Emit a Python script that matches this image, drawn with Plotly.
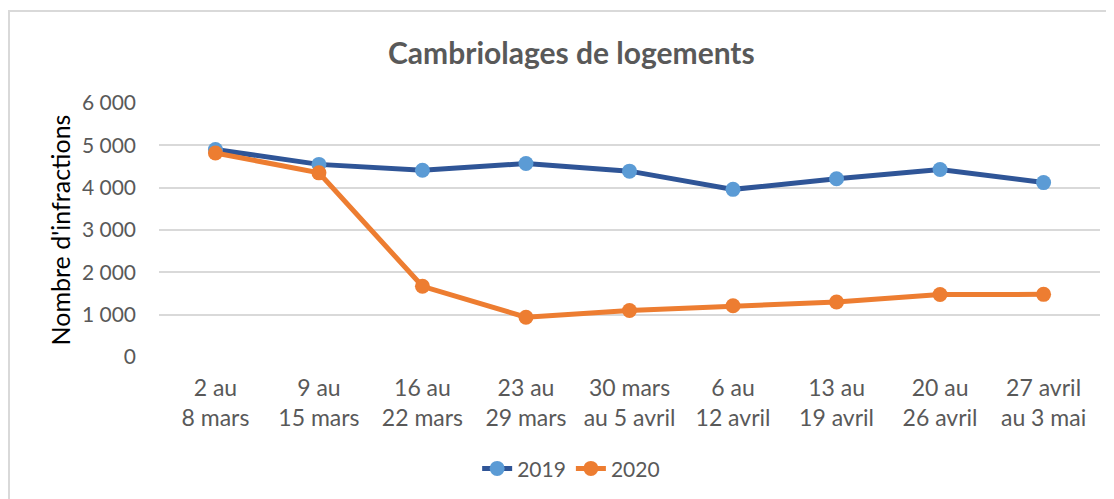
import plotly.graph_objects as go

categories = ["2 au<br>8 mars", "9 au<br>15 mars", "16 au<br>22 mars", "23 au<br>29 mars",
              "30 mars<br>au 5 avril", "6 au<br>12 avril", "13 au<br>19 avril",
              "20 au<br>26 avril", "27 avril<br>au 3 mai"]
values_2019 = [4900, 4550, 4410, 4570, 4390, 3960, 4210, 4430, 4120]
values_2020 = [4820, 4350, 1670, 940, 1100, 1210, 1300, 1475, 1480]
y_ticks = [0, 1000, 2000, 3000, 4000, 5000, 6000]
y_tick_labels = ["0", "1 000", "2 000", "3 000", "4 000", "5 000", "6 000"]

FONT = "Lato"
GRAY = "#595959"

fig = go.Figure()
fig.add_trace(go.Scatter(
    x=categories, y=values_2019, name="2019", mode="lines+markers",
    line=dict(color="#2F5597", width=5),
    marker=dict(color="#5B9BD5", size=15),
))
fig.add_trace(go.Scatter(
    x=categories, y=values_2020, name="2020", mode="lines+markers",
    line=dict(color="#ED7D31", width=5),
    marker=dict(color="#ED7D31", size=15),
))

# page body has an 8px margin: figure is offset by 8px right and down
fig.update_layout(
    width=1106, height=491,
    margin=dict(l=151, r=14, t=95, b=142, autoexpand=False),
    paper_bgcolor="white", plot_bgcolor="white",
    font=dict(family=FONT, color=GRAY, size=20),
    showlegend=True,
    legend=dict(orientation="h", x=0.438, xanchor="center", y=-0.44, yanchor="middle",
                font=dict(size=21, color=GRAY, family=FONT)),
    annotations=[dict(text="<b>Cambriolages de logements</b>", xref="paper", yref="paper",
                      x=0.438, y=1.2, xanchor="center", yanchor="middle", showarrow=False,
                      font=dict(size=30, color=GRAY, family=FONT))],
    shapes=[dict(type="rect", xref="paper", yref="paper",
                 x0=(1 - 151) / 941, x1=(1130 - 151) / 941,
                 y0=-(520 - 349) / 254, y1=(349 - 3) / 254,
                 line=dict(color="#D9D9D9", width=2), layer="below")],
)
fig.update_xaxes(showgrid=False, showline=False, zeroline=False, ticks="", automargin=False,
                 tickfont=dict(size=23, color=GRAY, family=FONT), ticklabelstandoff=15)
fig.update_yaxes(range=[0, 6000], tickvals=y_ticks, ticktext=y_tick_labels, automargin=False,
                 showgrid=True, gridcolor="#D9D9D9", gridwidth=1.5, zeroline=False,
                 showline=False, ticks="", ticklabelstandoff=22,
                 tickfont=dict(size=21, color=GRAY, family=FONT),
                 title=dict(text="Nombre d'infractions", standoff=4,
                            font=dict(size=25, color="black", family=FONT)))

fig.write_html("out.html")
